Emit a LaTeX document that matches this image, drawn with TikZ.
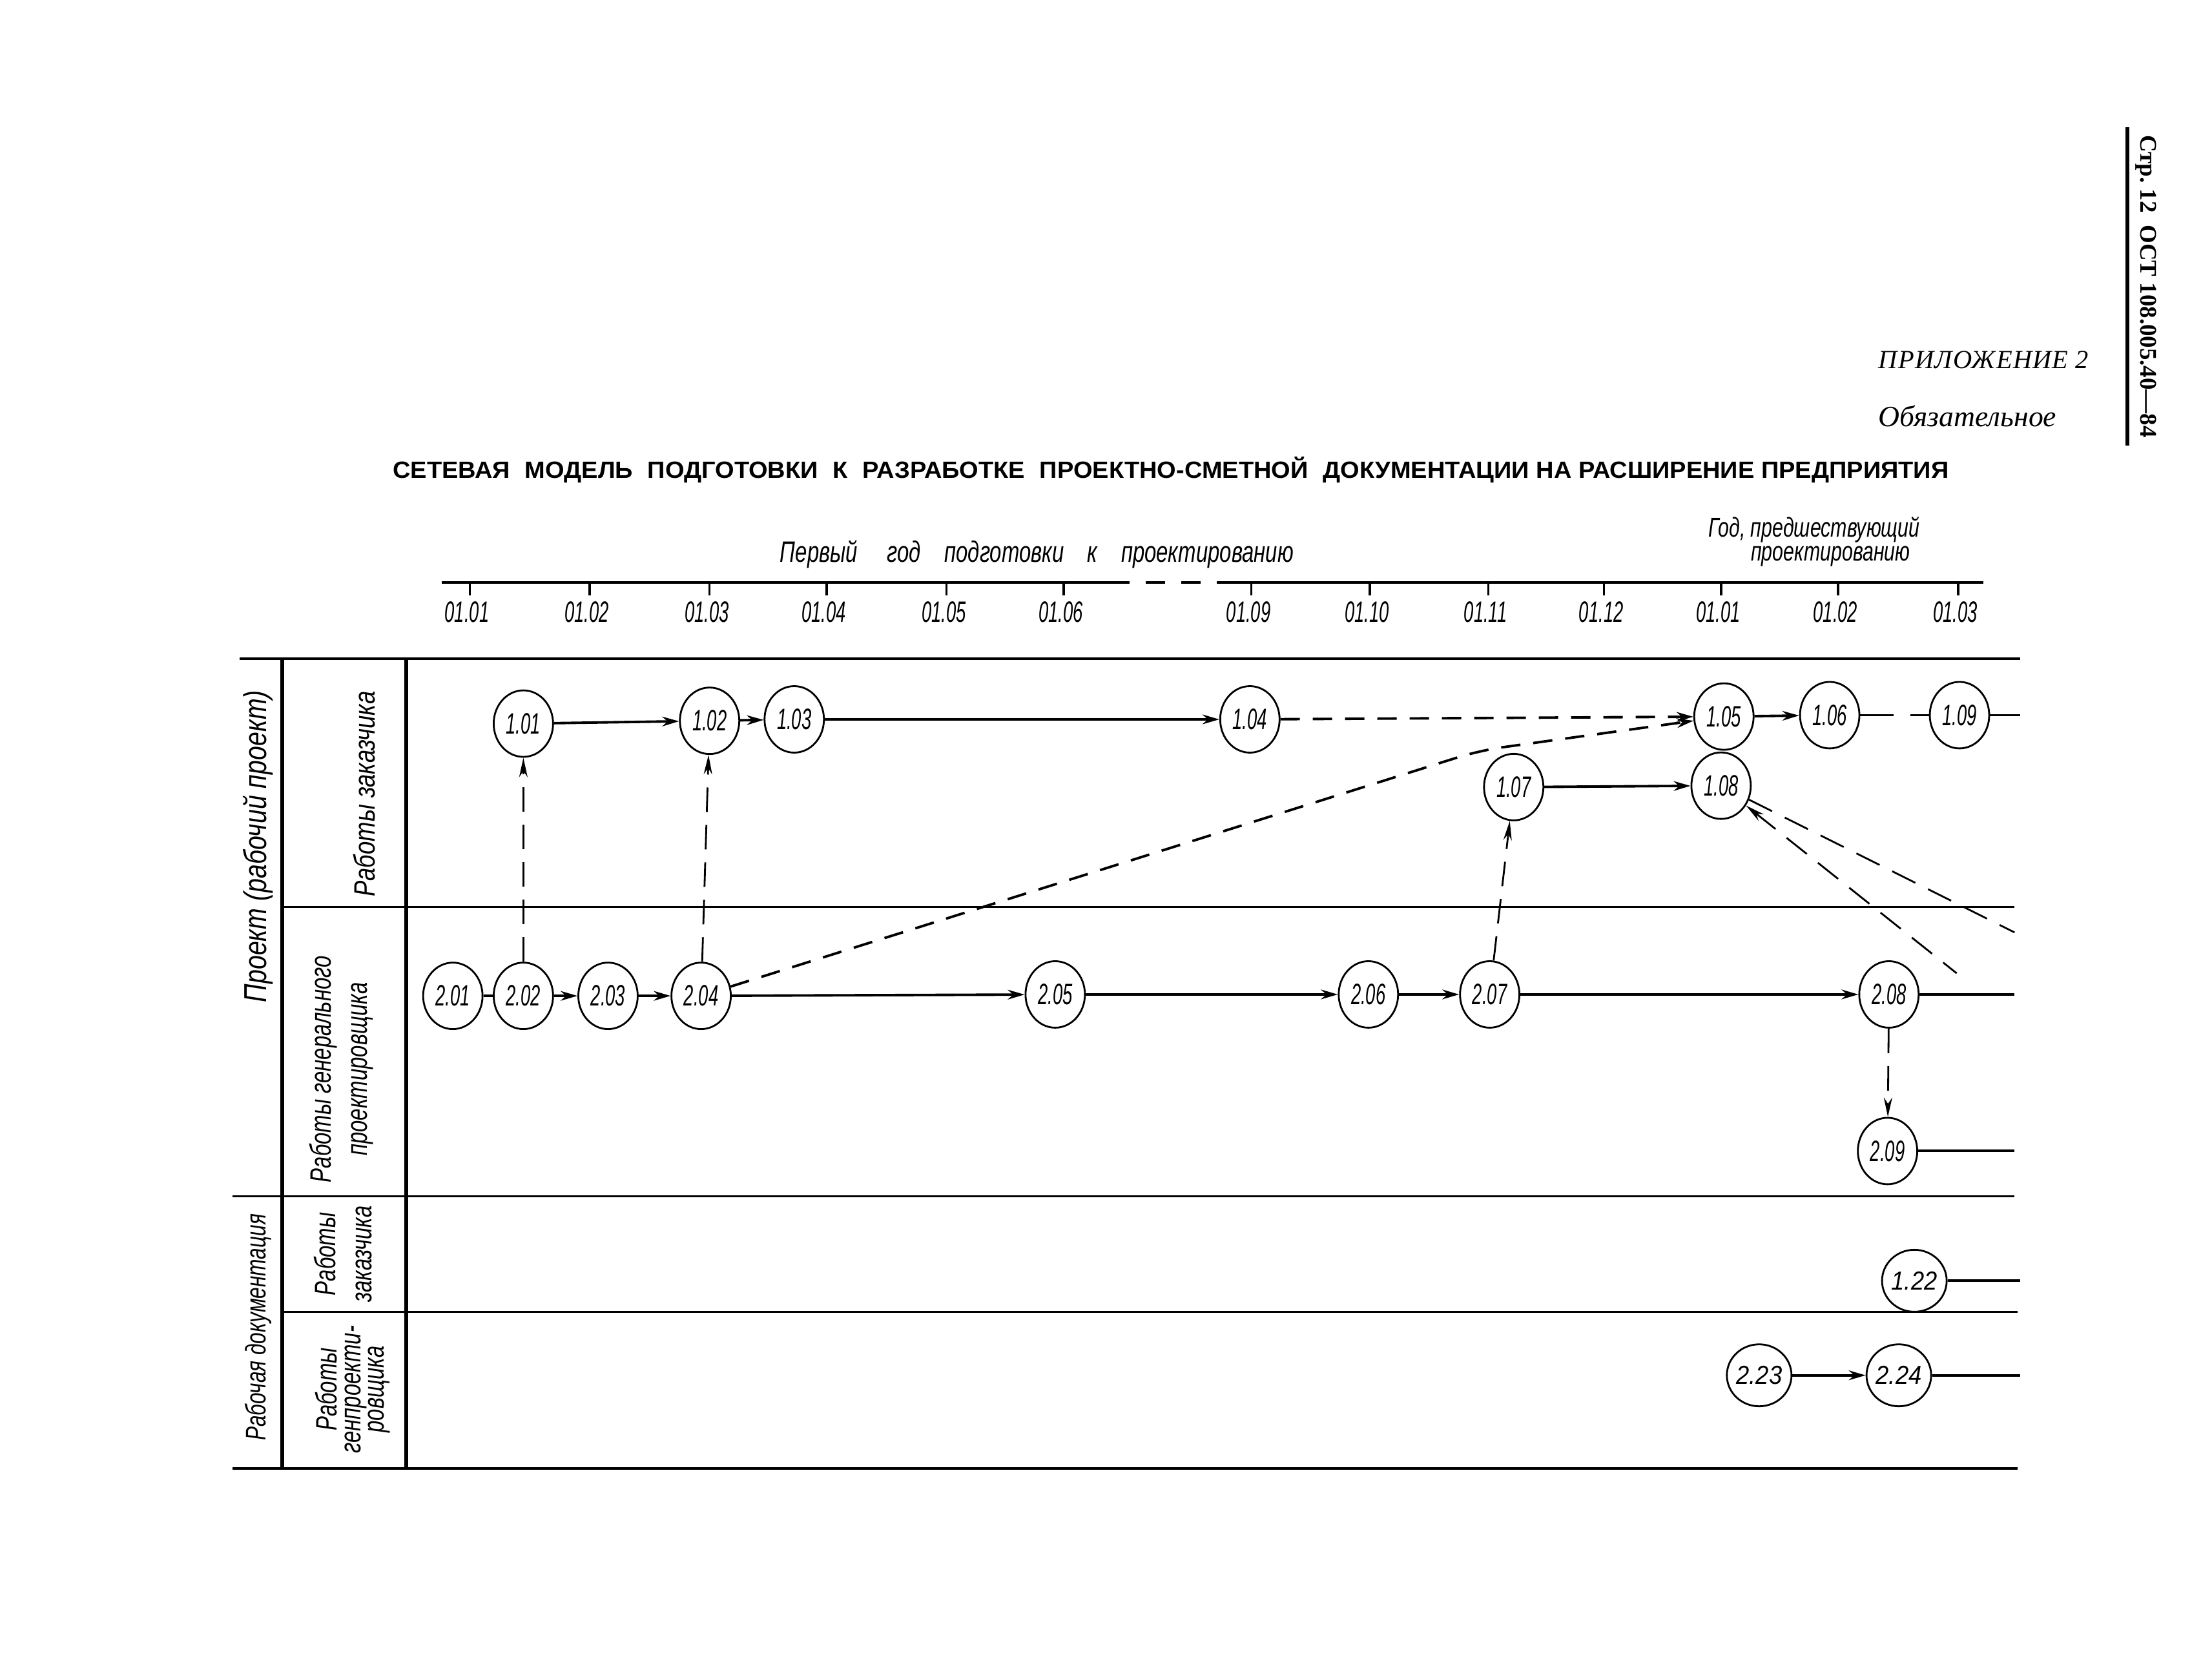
\documentclass[tikz,border=0pt]{standalone}
\usepackage{graphicx}
\usepackage{fontspec}
\setmainfont{Liberation Serif}
\newfontfamily\drafting{Liberation Sans}[FakeStretch=0.72]
\newfontfamily\draftnarrow{Liberation Sans}[FakeStretch=0.6]
\newfontfamily\draftlane{Liberation Sans}[FakeStretch=0.8]
\newfontfamily\draftwide{Liberation Sans}[FakeStretch=0.9]
\newfontfamily\headsans{Liberation Sans}
\usetikzlibrary{positioning, calc, shapes.geometric, arrows.meta}

\begin{document}
\begin{tikzpicture}[
        x=0.021843cm, y=-0.021843cm,
        evt/.style={ellipse, draw, line width=0.8pt, inner sep=0pt, minimum width=0.92cm, minimum height=1.03cm,
                    font=\draftnarrow\itshape\fontsize{13}{15}\selectfont},
        evtround/.style={evt, minimum height=0.96cm, font=\draftwide\itshape\fontsize{11.5}{13}\selectfont},
        month/.style={font=\draftnarrow\itshape\fontsize{13}{15}\selectfont},
        caption/.style={font=\drafting\itshape\fontsize{13}{15}\selectfont},
        lane/.style={rotate=90, align=center, font=\drafting\itshape\fontsize{13}{16}\selectfont},
        grid/.style={line width=1pt},
        thickgrid/.style={line width=1.8pt},
        link/.style={line width=1.1pt},
        arrow/.style={-{Stealth[length=2.6mm, width=1.5mm]}, line width=1.1pt},
        dasharrow/.style={arrow, dash pattern=on 0.3cm off 0.2cm},
        dep/.style={-{Stealth[length=3mm, width=1.3mm]}, line width=0.8pt, dash pattern=on 0.38cm off 0.2cm},
        fan/.style={line width=0.8pt, dash pattern=on 0.4cm off 0.22cm}
    ]
    \useasboundingbox (0,0) rectangle (1568,1190);

    % Headings
    \node[rotate=-90, font=\bfseries\fontsize{10.5}{12}\selectfont] (stamp) at (1521,203) {Стр.\ 12\enspace ОСТ 108.005.40—84};
    \draw[line width=1.6pt] (stamp.south west) -- (stamp.south east);
    \node[anchor=west, font=\itshape\fontsize{11.5}{13}\selectfont\addfontfeatures{LetterSpace=3}] (annex) at (1326,255) {ПРИЛОЖЕНИЕ 2};
    \node[anchor=west, font=\itshape\fontsize{13}{15}\selectfont] (status) at (1326,295) {Обязательное};
    \node (title) at (830,333) {\resizebox{24.1cm}{0.33cm}{\headsans\bfseries СЕТЕВАЯ\hspace{0.6em}МОДЕЛЬ\hspace{0.6em}ПОДГОТОВКИ\hspace{0.6em}К\hspace{0.6em}РАЗРАБОТКЕ\hspace{0.6em}ПРОЕКТНО-СМЕТНОЙ\hspace{0.6em}ДОКУМЕНТАЦИИ НА РАСШИРЕНИЕ ПРЕДПРИЯТИЯ}};

    % Time scale
    \node[caption] (year1) at (735,393) {Первый\hspace{1em}год\hspace{0.8em}подготовки\hspace{0.8em}к\hspace{0.8em}проектированию};
    \node[caption, align=center, font=\drafting\itshape\fontsize{12}{10.5}\selectfont] (year0) at (1286,384) {Год, предшествующий\\\hspace*{1.2em}проектированию};
    \draw[grid] (313,413) -- (787,413);
    \draw[grid, dash pattern=on 0.3cm off 0.25cm] (787,413) -- (865,413);
    \draw[grid] (865,413) -- (1406,413);
    \foreach \x/\m in {333/01.01, 418/01.02, 503/01.03, 586/01.04, 671/01.05, 754/01.06, 887/01.09,
                       971/01.10, 1055/01.11, 1137/01.12, 1220/01.01, 1303/01.02, 1388/01.03} {
        \draw[grid] (\x,413) -- (\x,422);
        \node[month] (m\x) at (\x-2,434) {\m};
    }

    % Table
    \draw[grid] (170,467) -- (1432,467);
    \draw[grid] (200,643) -- (1428,643);
    \draw[grid] (165,848) -- (1428,848);
    \draw[grid] (200,930) -- (1430,930);
    \draw[grid] (165,1041) -- (1430,1041);
    \draw[thickgrid] (200,467) -- (200,1041);
    \draw[thickgrid] (288,467) -- (288,1041);

    \node[lane, font=\draftlane\itshape\fontsize{14}{16}\selectfont] (proj) at (183,600) {Проект (рабочий проект)};
    \node[lane, font=\drafting\itshape\fontsize{12.5}{16}\selectfont] (docs) at (183,941) {Рабочая документация};
    \node[lane, font=\draftlane\itshape\fontsize{13}{16}\selectfont] (cust1) at (258,563) {Работы заказчика};
    \node[lane] (gen1) at (242,758) {Работы генерального\\проектировщика};
    \node[lane] (cust2) at (243,889) {Работы\\заказчика};
    \node[lane, font=\drafting\itshape\fontsize{13}{10.5}\selectfont] (gen2) at (250,985) {Работы\\генпроекти-\\ровщика};

    % Nodes
    \node[evt] (n101) at (371,513) {1.01};
    \node[evt] (n102) at (503,511) {1.02};
    \node[evt] (n103) at (563,510) {1.03};
    \node[evt] (n104) at (886,510) {1.04};
    \node[evt] (n105) at (1222,508) {1.05};
    \node[evt] (n106) at (1297,507) {1.06};
    \node[evt] (n109) at (1389,507) {1.09};
    \node[evt] (n107) at (1073,558) {1.07};
    \node[evt] (n108) at (1220,557) {1.08};

    \node[evt] (n201) at (321,706) {2.01};
    \node[evt] (n202) at (371,706) {2.02};
    \node[evt] (n203) at (431,706) {2.03};
    \node[evt] (n204) at (497,706) {2.04};
    \node[evt] (n205) at (748,705) {2.05};
    \node[evt] (n206) at (970,705) {2.06};
    \node[evt] (n207) at (1056,705) {2.07};
    \node[evt] (n208) at (1339,705) {2.08};
    \node[evt] (n209) at (1338,816) {2.09};

    \node[evtround] (n122) at (1357,908) {1.22};
    \node[evtround] (n223) at (1247,975) {2.23};
    \node[evtround] (n224) at (1346,975) {2.24};

    \coordinate (kink) at (1049,532);
    \coordinate (fanA) at (1387,690);
    \coordinate (fanB) at (1428,661);
    \coordinate (e109) at (1432,507);
    \coordinate (e208) at (1428,705);
    \coordinate (e209) at (1428,816);
    \coordinate (e122) at (1432,908);
    \coordinate (e224) at (1432,975);

    % Arrows
    \draw[arrow] (n101) -- (n102);
    \draw[arrow] (n102) -- (n103);
    \draw[arrow] (n103) -- (n104);
    \draw[dasharrow] (n104) -- (n105);
    \draw[arrow] (n105) -- (n106);
    \draw[link, dash pattern=on 0.52cm off 0.26cm] (n106) -- (n109);
    \draw[link] (n109) -- (e109);
    \draw[arrow] (n107) -- (n108);

    \draw[link] (n201) -- (n202);
    \draw[arrow] (n202) -- (n203);
    \draw[arrow] (n203) -- (n204);
    \draw[arrow] (n204) -- (n205);
    \draw[arrow] (n205) -- (n206);
    \draw[arrow] (n206) -- (n207);
    \draw[arrow] (n207) -- (n208);
    \draw[link] (n208) -- (e208);
    \draw[link] (n209) -- (e209);

    \draw[link] (n122) -- (e122);
    \draw[arrow] (n223) -- (n224);
    \draw[link] (n224) -- (e224);

    \draw[dep] (n202) -- (n101);
    \draw[dep] (n204) -- (n102);
    \draw[dep] (n207) -- (n107);
    \draw[dep] (n208) -- (n209);
    \draw[dasharrow, rounded corners=10pt] (n204) -- (kink) -- (n105);
    \draw[fan, {Stealth[length=3mm, width=1.3mm]}-] (n108) -- (fanA);
    \draw[fan] (n108) -- (fanB);

\end{tikzpicture}
\end{document}
